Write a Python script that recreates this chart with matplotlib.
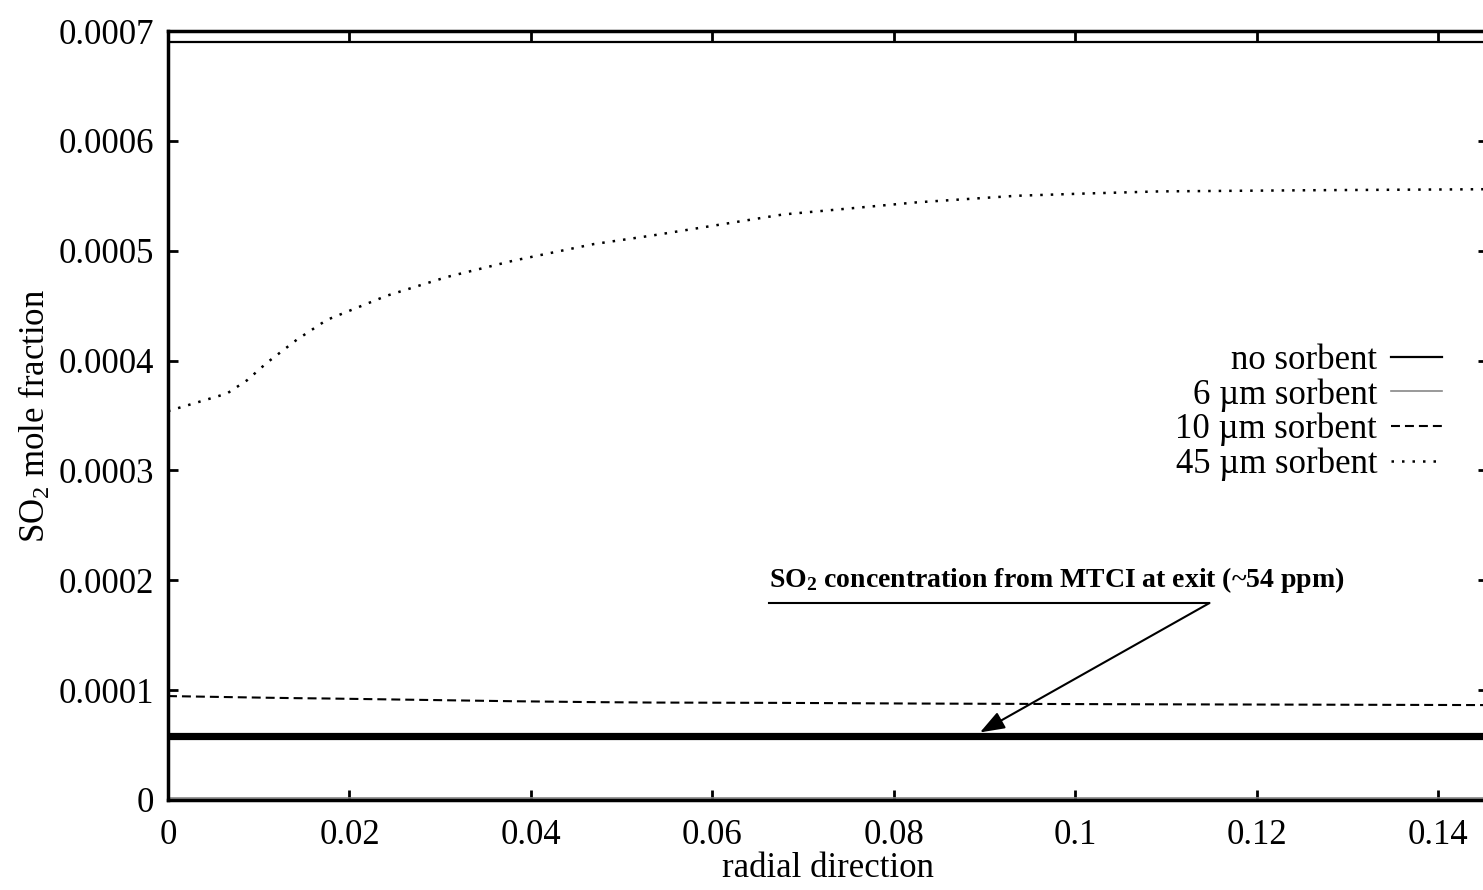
import matplotlib
matplotlib.use("Agg")
import matplotlib.pyplot as plt

plt.rcParams['font.family'] = ['Liberation Serif', 'DejaVu Serif']
plt.rcParams['mathtext.default'] = 'regular'

# radial positions
r = [0.0, 0.0065, 0.0087, 0.0109, 0.0142, 0.0175, 0.0241, 0.0307, 0.0381,
     0.0469, 0.0535, 0.0678, 0.0825, 0.0935, 0.1009, 0.1093, 0.125, 0.1455]

no_sorbent = [0.00069] * len(r)
sorbent_6um = [0.000002] * len(r)
sorbent_10um = [0.0000946, 0.0000937, 0.0000934, 0.0000931, 0.0000927, 0.0000924,
                0.0000916, 0.0000908, 0.0000899, 0.0000891, 0.0000887, 0.0000884,
                0.0000878, 0.0000875, 0.0000873, 0.0000871, 0.0000868, 0.0000864]
sorbent_45um = [0.000354, 0.000370, 0.000382, 0.000398, 0.000419, 0.000437,
                0.000459, 0.000476, 0.000491, 0.000506, 0.000514, 0.000533,
                0.000544, 0.000550, 0.000552, 0.000554, 0.000555, 0.000556]

mtci_exit = 0.0000582
note_text = 'SO$_2$ concentration from MTCI at exit (~54 ppm)'
note_start = (0.0663, 0.0001793)
note_end = (0.1148, 0.0001793)
arrow_tip = (0.0895, 0.0000615)

fig = plt.figure(figsize=(14.83, 8.9), dpi=100)
ax = fig.add_axes([168 / 1483, 90 / 890, (1488 - 168) / 1483, 769 / 890])

ax.plot(r, no_sorbent, color='black', lw=1.6, label='no sorbent')
ax.plot(r, sorbent_6um, color='#888888', lw=1.2, label='6 \u00b5m sorbent')
ax.plot(r, sorbent_10um, color='black', lw=1.5, ls=(0, (4.3, 2.4)), label='10 \u00b5m sorbent')
ax.plot(r, sorbent_45um, color='black', lw=1.8, ls=(0, (1, 3.2)), label='45 \u00b5m sorbent')

ax.axhline(mtci_exit, color='black', lw=5.2)
ax.plot([note_start[0], note_end[0]], [note_start[1], note_end[1]], color='black', lw=1.5)
ax.annotate('', xy=arrow_tip, xytext=note_end,
            arrowprops=dict(arrowstyle='-|>,head_length=1.5,head_width=0.55',
                            color='black', lw=1.5, shrinkA=0, shrinkB=0))
ax.text(note_start[0], 0.0002, note_text, fontsize=20, fontweight='bold',
        ha='left', va='center')

ax.set_xlim(0, 0.1455)
ax.set_ylim(0, 0.0007)
ax.set_xticks([0, 0.02, 0.04, 0.06, 0.08, 0.1, 0.12, 0.14])
ax.set_xticklabels(['0', '0.02', '0.04', '0.06', '0.08', '0.1', '0.12', '0.14'])
ax.set_yticks([0, 0.0001, 0.0002, 0.0003, 0.0004, 0.0005, 0.0006, 0.0007])
ax.set_yticklabels(['0', '0.0001', '0.0002', '0.0003', '0.0004', '0.0005', '0.0006', '0.0007'])
ax.tick_params(direction='in', length=7, width=2, labelsize=25,
               top=True, right=True)
ax.tick_params(axis='x', pad=14)
ax.tick_params(axis='y', pad=10)
for s in ax.spines.values():
    s.set_linewidth(2.5)

ax.set_xlabel('radial direction', fontsize=25, labelpad=0)
ax.set_ylabel('SO$_2$ mole fraction', fontsize=25, labelpad=4)

ax.legend(loc='upper right', bbox_to_anchor=(0.978, 0.616), frameon=False,
          markerfirst=False, fontsize=25, handlelength=1.45, handletextpad=0.4,
          labelspacing=0.04, borderpad=0)

fig.savefig('out.png', dpi=100)
